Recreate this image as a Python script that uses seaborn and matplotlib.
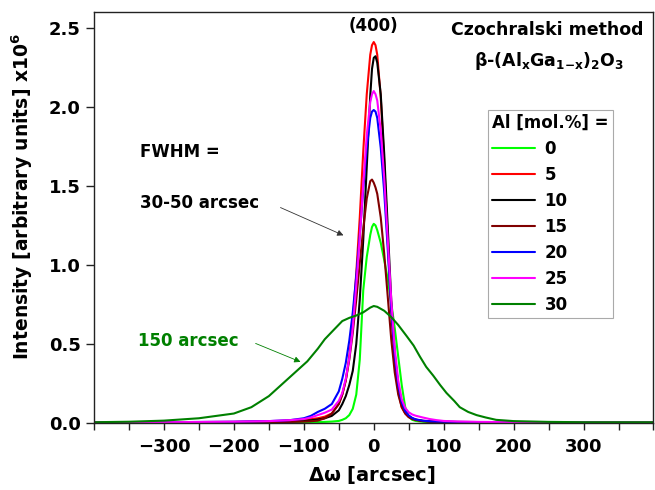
import numpy as np
import pandas as pd
import seaborn as sns
import matplotlib
matplotlib.use("Agg")
import matplotlib.pyplot as plt
from matplotlib.ticker import MultipleLocator, FormatStrFormatter
from matplotlib.lines import Line2D

# Rocking-curve (400) reflections of Czochralski-grown beta-(AlxGa1-x)2O3 crystals
al_content = ["0", "5", "10", "15", "20", "25", "30"]
colors = ["#00ff00", "#ff0000", "#000000", "#800000", "#0000ff", "#ff00ff", "#008000"]

# Common angular grid for the narrow peaks [arcsec]
omega_narrow = [-400, -300, -200, -150, -120, -100, -90, -80, -70, -60, -50, -45,
                -40, -35, -30, -25, -20, -15, -10, -5, -2.5, 0, 2.5, 5, 10, 15, 20, 25, 30,
                35, 40, 45, 50, 55, 60, 70, 80, 90, 100, 120, 150, 200, 300, 400]

# Intensities in units of 1e6
int_al0 = [.005, .005, .005, .005, .005, .005, .005, .006, .007, .009, .013, .02,
           .03, .05, .09, .18, .40, .84, 1.05, 1.19, 1.24, 1.26, 1.25, 1.22, 1.14, 1.03, .91, .76, .60,
           .42, .24, .10, .04, .02, .013, .008, .006, .005, .005, .005, .005, .005, .005, .005]
int_al5 = [.005, .005, .007, .01, .015, .02, .025, .03, .04, .06, .12, .18,
           .27, .42, .64, .95, 1.30, 1.72, 2.08, 2.33, 2.39, 2.41, 2.39, 2.33, 2.06, 1.65, 1.16, .70, .38,
           .20, .10, .06, .038, .027, .021, .014, .011, .009, .008, .007, .006, .005, .005, .005]
int_al10 = [.005, .005, .006, .008, .01, .013, .017, .022, .03, .045, .08, .12,
            .17, .24, .33, .50, .78, 1.16, 1.62, 2.07, 2.24, 2.31, 2.32, 2.28, 2.08, 1.70, 1.24, .78, .44,
            .23, .12, .07, .043, .03, .021, .013, .01, .008, .007, .006, .005, .005, .005, .005]
int_al15 = [.005, .005, .005, .006, .007, .009, .011, .015, .03, .06, .12, .18,
            .27, .40, .57, .78, 1.01, 1.23, 1.42, 1.53, 1.54, 1.52, 1.49, 1.45, 1.30, 1.07, .80, .53, .32,
            .18, .10, .06, .037, .025, .019, .012, .009, .007, .006, .005, .005, .005, .005, .005]
int_al20 = [.005, .005, .008, .012, .018, .03, .045, .07, .09, .12, .20, .28,
            .38, .52, .70, .93, 1.19, 1.48, 1.74, 1.93, 1.97, 1.98, 1.97, 1.93, 1.74, 1.46, 1.10, .72, .43,
            .24, .13, .075, .048, .032, .023, .015, .011, .009, .008, .007, .006, .005, .005, .005]
int_al25 = [.005, .005, .008, .012, .018, .025, .035, .05, .065, .085, .14, .19,
            .28, .41, .60, .87, 1.17, 1.51, 1.82, 2.03, 2.08, 2.10, 2.08, 2.04, 1.85, 1.55, 1.16, .78, .47,
            .27, .15, .095, .068, .054, .046, .035, .025, .018, .013, .009, .007, .005, .005, .005]

# Broad peak of the 30 mol.% crystal on its own grid
omega_al30 = [-400, -350, -300, -250, -200, -175, -150, -130, -115, -105, -95, -80,
              -70, -57, -45, -35, -25, -15, -5, 0, 5, 15, 25, 35, 47, 57, 66, 75, 85,
              95, 104, 115, 123, 135, 147, 160, 175, 200, 250, 300, 400]
int_al30 = [.005, .008, .015, .03, .06, .10, .17, .25, .31, .35, .39, .47,
            .53, .59, .645, .665, .68, .70, .73, .74, .735, .71, .67, .62, .55, .49, .42, .355, .30,
            .24, .19, .14, .10, .07, .05, .035, .02, .012, .007, .005, .005]

narrow = [int_al0, int_al5, int_al10, int_al15, int_al20, int_al25]
frames = []
for label, vals in zip(al_content[:-1], narrow):
    frames.append(pd.DataFrame({"omega": omega_narrow, "intensity": vals, "Al": label}))
frames.append(pd.DataFrame({"omega": omega_al30, "intensity": int_al30, "Al": al_content[-1]}))
df = pd.concat(frames, ignore_index=True)

sns.set_style("ticks")
plt.rcParams["font.family"] = ["DejaVu Sans"]
plt.rcParams["font.weight"] = "bold"
plt.rcParams["mathtext.fontset"] = "dejavusans"
plt.rcParams["text.color"] = "black"
plt.rcParams["axes.labelcolor"] = "black"
plt.rcParams["xtick.color"] = "black"
plt.rcParams["ytick.color"] = "black"

fig = plt.figure(figsize=(6.55, 4.9), dpi=100)
ax = fig.add_axes([94 / 655, 67 / 490, 559.5 / 655, 411 / 490])

palette = dict(zip(al_content, colors))
sns.lineplot(data=df, x="omega", y="intensity", hue="Al", hue_order=al_content,
             palette=palette, estimator=None, sort=False, linewidth=1.5,
             legend=False, ax=ax)

ax.set_xlim(-400, 400)
ax.set_ylim(0, 2.6)
ax.set_xticks([-300, -200, -100, 0, 100, 200, 300])
ax.xaxis.set_minor_locator(MultipleLocator(50))
ax.yaxis.set_major_locator(MultipleLocator(0.5))
ax.yaxis.set_major_formatter(FormatStrFormatter("%.1f"))

for side in ["left", "right", "top", "bottom"]:
    ax.spines[side].set_visible(True)
    ax.spines[side].set_color("#222222")
    ax.spines[side].set_linewidth(1.0)

ax.tick_params(axis="x", which="both", direction="out", length=5, width=1,
               labelsize=13, pad=6, top=False, color="#222222", labelcolor="black")
ax.tick_params(axis="y", which="major", direction="out", length=6, width=1,
               labelsize=13, pad=3.5, right=False, color="#222222", labelcolor="black")
for lab in ax.get_xticklabels() + ax.get_yticklabels():
    lab.set_fontweight("bold")

ax.set_xlabel(r"$\mathrm{\Delta\omega}$ [arcsec]", fontsize=14, fontweight="bold")
ax.set_ylabel(r"Intensity [arbitrary units] x10$^\mathbf{6}$", fontsize=13.5, fontweight="bold")
ax.xaxis.set_label_coords(0.497, -0.10)
ax.yaxis.set_label_coords(-0.129, 0.55)
ax.yaxis.label.set_va("center")

# Annotations
ax.text(0, 2.51, "(400)", ha="center", va="center", fontsize=12, fontweight="bold")
ax.text(386, 2.455, "Czochralski method", ha="right", va="baseline",
        fontsize=12.5, fontweight="bold")
ax.text(250, 2.26,
        r"$\mathrm{\beta}$-(Al$_\mathbf{x}$Ga$_\mathbf{1{-}x}$)$_\mathbf{2}$O$_\mathbf{3}$",
        ha="center", va="baseline", fontsize=12.5, fontweight="bold")
ax.text(-334, 1.715, "FWHM =", ha="left", va="center", fontsize=12, fontweight="bold")
ax.text(-334, 1.392, "30-50 arcsec", ha="left", va="center", fontsize=12, fontweight="bold")
ax.text(-337, 0.519, "150 arcsec", ha="left", va="center", fontsize=12,
        fontweight="bold", color="#008000")
ax.annotate("", xy=(-39.7, 1.18), xytext=(-137, 1.37),
            arrowprops=dict(arrowstyle="-|>", color="#333333", lw=0.6, mutation_scale=9))
ax.annotate("", xy=(-101, 0.38), xytext=(-172.6, 0.51),
            arrowprops=dict(arrowstyle="-|>", color="#008000", lw=0.6, mutation_scale=9))

handles = [Line2D([], [], color=c, lw=1.5) for c in colors]
leg = ax.legend(handles, al_content, title="Al [mol.%] =", loc="upper left",
                bbox_to_anchor=(0.704, 0.762), borderaxespad=0, frameon=True,
                fancybox=False, edgecolor="#aaaaaa", framealpha=1,
                prop={"size": 12, "weight": "bold"},
                title_fontproperties={"size": 12, "weight": "bold"},
                handlelength=2.6, handletextpad=0.55, labelspacing=0.48,
                borderpad=0.25, alignment="left")
leg.get_frame().set_linewidth(0.8)

fig.savefig("out.png", dpi=100)
